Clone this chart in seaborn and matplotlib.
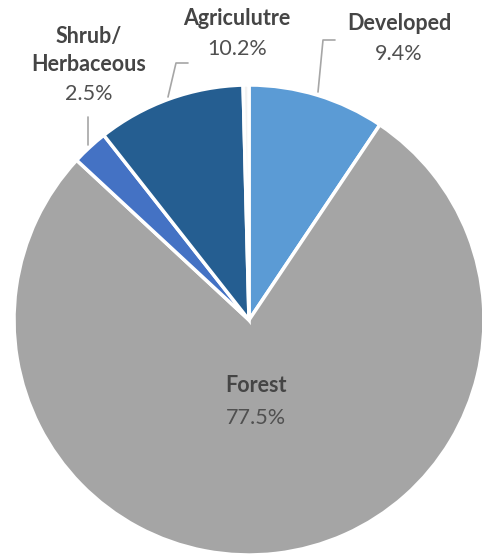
import matplotlib
matplotlib.use("Agg")
import matplotlib.pyplot as plt
import seaborn as sns

categories = ["Developed", "Forest", "Shrub/\nHerbaceous", "Agriculutre", "Water"]
values = [9.4, 77.5, 2.5, 10.2, 0.4]
pct_labels = ["9.4%", "77.5%", "2.5%", "10.2%", ""]
colors = ["#5B9BD5", "#A5A5A5", "#4472C4", "#255E91", "#F2F2F2"]

sns.set_theme(style="white")
plt.rcParams['font.family'] = ['Lato', 'DejaVu Sans']

W, H = 482, 554
fig = plt.figure(figsize=(W / 100, H / 100), dpi=100)
ax = fig.add_axes([0, 0, 1, 1])

cx, cy, r = 249, H - 320, 235
ax.pie(values, colors=colors, startangle=90, counterclock=False,
       center=(cx, cy), radius=r, frame=True,
       wedgeprops=dict(edgecolor="white", linewidth=2.5))
ax.set_xlim(0, W)
ax.set_ylim(0, H)
ax.axis("off")

tc_bold = "#454545"
tc = "#505050"
fs = 15.5

def label(x, baselines, name, pct):
    lines = name.split("\n")
    for ln, b in zip(lines, baselines):
        ax.text(x, H - b, ln, ha="center", va="baseline", fontsize=fs,
                fontweight="bold", color=tc_bold)
    ax.text(x, H - baselines[-1], pct, ha="center", va="baseline",
            fontsize=fs, color=tc)

label(399, [30, 60], categories[0], pct_labels[0])
label(237, [25, 55], categories[3], pct_labels[3])
label(89, [43, 71, 100], categories[2], pct_labels[2])
label(256, [392, 424], "Forest", pct_labels[1])

lc = "#A6A6A6"
ax.plot([318, 323, 335], [H - 92, H - 40, H - 40], color=lc, lw=1.2)
ax.plot([168, 176, 188], [H - 97, H - 63, H - 63], color=lc, lw=1.2)
ax.plot([88, 88], [H - 145, H - 117], color=lc, lw=1.2)

fig.savefig("out.png", dpi=100)
